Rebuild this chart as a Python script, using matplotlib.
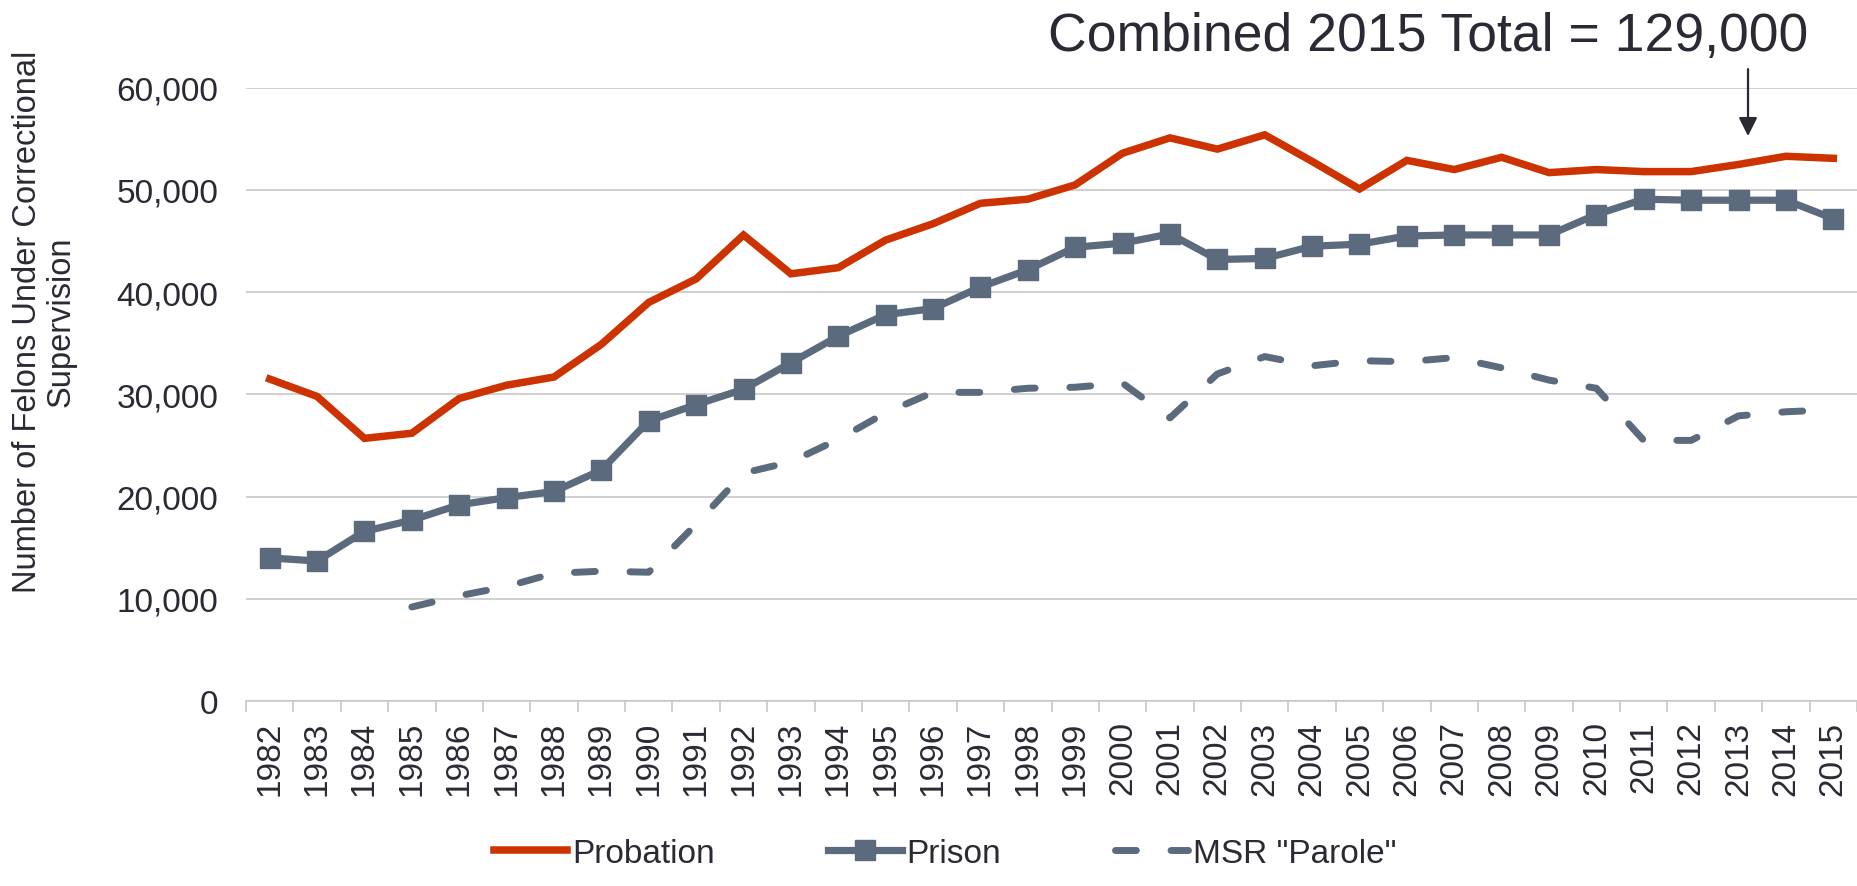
import matplotlib
matplotlib.use("Agg")
import matplotlib.pyplot as plt
from matplotlib.ticker import FuncFormatter

years = list(range(1982, 2016))
probation = [31500, 29800, 25700, 26200, 29600, 30900, 31700, 34900, 39000, 41300,
             45600, 41800, 42400, 45100, 46700, 48700, 49100, 50500, 53600, 55100,
             54000, 55400, 52800, 50100, 52900, 52000, 53200, 51700, 52000, 51800,
             51800, 52500, 53300, 53100]
prison = [14000, 13700, 16600, 17700, 19200, 19900, 20500, 22600, 27400, 29000,
          30500, 33100, 35700, 37800, 38400, 40500, 42200, 44400, 44800, 45700,
          43200, 43300, 44500, 44700, 45500, 45600, 45600, 45600, 47600, 49100,
          49000, 49000, 49000, 47200]
# MSR "Parole" starts in 1985
parole = [None, None, None, 9200, 10300, 11200, 12500, 12700, 12600, 17300,
          22300, 23400, 25600, 28200, 30200, 30200, 30600, 30700, 31100, 27700,
          32000, 33700, 32800, 33300, 33200, 33600, 32600, 31400, 30600, 25500,
          25500, 27900, 28300, 28500]

title_text = "Combined 2015 Total = 129,000"
ylabel_text = "Number of Felons Under Correctional\nSupervision"

RED = '#cc3300'
SLATE = '#5b6a7d'
TXT = '#2a2a35'
GRID = '#c8c8c8'

plt.rcParams['font.family'] = ['Liberation Sans', 'DejaVu Sans']

fig = plt.figure(figsize=(18.57, 8.87), dpi=100)
ax = fig.add_axes([246 / 1857, 1 - 702 / 887, 1 - 246 / 1857, (702 - 88.8) / 887])

x = list(range(len(years)))
px = [i for i, v in zip(x, parole) if v is not None]
pv = [v for v in parole if v is not None]

ax.plot(x, probation, color=RED, lw=5.4, solid_joinstyle='miter', label='Probation', zorder=3)
ax.plot(x, prison, color=SLATE, lw=5.2, marker='s', ms=14.5, label='Prison', zorder=3)
ax.plot(px, pv, color=SLATE, lw=5.0, dashes=(3.0, 5.0), dash_capstyle='round',
        label='MSR "Parole"', zorder=2)

ax.set_xlim(-0.5, len(years) - 0.5)
ax.set_ylim(0, 60000)
ax.set_yticks(range(0, 60001, 10000))
ax.yaxis.set_major_formatter(FuncFormatter(lambda v, p: f"{int(v):,}"))
ax.grid(axis='y', color=GRID, lw=1.2, zorder=0)

ax.set_xticks(x)
ax.set_xticklabels([str(y) for y in years], rotation=90)
ax.set_xticks([i - 0.5 for i in range(len(years) + 1)], minor=True)
ax.tick_params(axis='x', which='major', length=0, pad=14, labelsize=24, labelcolor=TXT)
ax.tick_params(axis='x', which='minor', length=8, width=1.2, color=GRID, direction='out')
ax.tick_params(axis='y', length=0, pad=20, labelsize=24, labelcolor=TXT)

for s in ['top', 'right', 'left']:
    ax.spines[s].set_visible(False)
ax.spines['bottom'].set_color(GRID)
ax.spines['bottom'].set_linewidth(1.2)

fig.text(44 / 1857, 1 - 322 / 887, ylabel_text, rotation=90, ha='center', va='center',
         multialignment='center', fontsize=23.5, color=TXT, linespacing=1.1)

fig.text(1428 / 1857, 1 - 51 / 887, title_text, ha='center', va='baseline',
         fontsize=38.5, color=TXT)

ax.annotate('', xy=(31.2, 55000), xytext=(31.2, 62100), xycoords='data',
            arrowprops=dict(arrowstyle='-|>', color=TXT, lw=1.6, mutation_scale=28),
            annotation_clip=False)

fig.legend(loc='lower center', bbox_to_anchor=(0.509, -0.003), ncol=3, frameon=False,
           fontsize=24, handlelength=2.2, handletextpad=0.15, columnspacing=3.4,
           numpoints=1, labelcolor=TXT, borderpad=0.1)

fig.savefig('out.png', dpi=100)
